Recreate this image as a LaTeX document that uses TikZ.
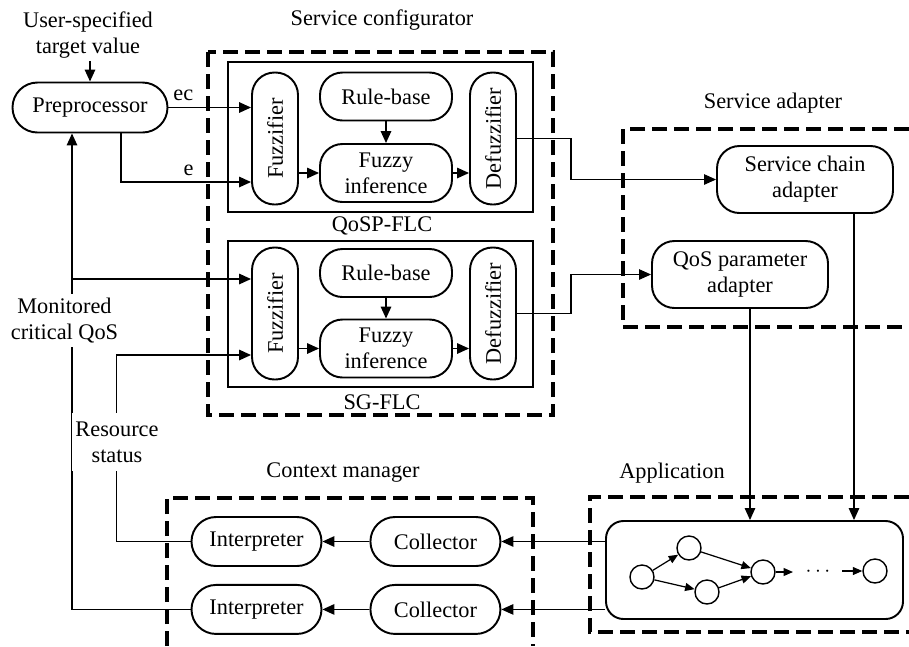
\documentclass[tikz,border=0pt]{standalone}
\usepackage{fontspec}
\setmainfont{Liberation Serif}
\usepackage{graphicx}
\usetikzlibrary{arrows.meta}
\usetikzlibrary{positioning}

\begin{document}
\begin{tikzpicture}[
        font={\fontsize{12.7pt}{14.8pt}\selectfont},
        line width=0.9pt,
        >={Triangle[length=2.4mm,width=2.1mm]},
        block_style/.style={draw, rectangle, rounded corners=0.45cm, line width=1.1pt,
          align=center, inner sep=0pt},
        fuzz_style/.style={block_style, minimum width=0.92cm, minimum height=2.64cm},
        rule_style/.style={block_style, minimum width=2.64cm, minimum height=0.96cm},
        infer_style/.style={block_style, minimum width=2.64cm, minimum height=1.16cm},
        adapt_style/.style={block_style, minimum width=3.52cm, minimum height=1.34cm},
        pill_style/.style={block_style, minimum width=2.6cm, minimum height=0.98cm, rounded corners=0.49cm},
        group_style/.style={line width=1.8pt, dash pattern=on 0.3cm off 0.14cm},
        flc_style/.style={draw, line width=1.1pt},
        dot_style/.style={draw, circle, minimum size=0.48cm, inner sep=0pt, line width=0.8pt},
        thin_line/.style={line width=0.7pt},
        small_arrow/.style={->, >={Triangle[length=1.9mm,width=1.6mm]}, line width=0.7pt},
      node distance=0.94cm]

      \useasboundingbox (0,0) rectangle (18.18,-12.92);

      % dashed groups
      \draw[group_style] (4.16,-1.04) rectangle (11.06,-8.3);
      \draw[group_style] (18.18,-2.58) -- (12.46,-2.58) -- (12.46,-6.54) -- (18.18,-6.54);
      \draw[group_style] (18.18,-9.94) -- (11.8,-9.94) -- (11.8,-12.64) -- (18.18,-12.64);
      \draw[group_style] (3.34,-12.92) -- (3.34,-9.96) -- (10.66,-9.96) -- (10.66,-12.92);

      \node (conf_label) at (7.64,-0.4) {Service configurator};
      \node (adapt_label) at (15.46,-2.06) {Service adapter};
      \node (app_label) at (13.44,-9.46) {Application};
      \node (ctx_label) at (6.86,-9.46) {Context manager};

      % preprocessor
      \node[align=center, inner sep=1pt] (target_val) at (1.76,-0.7) {User-specified\\target value};
      \node[block_style, minimum width=3.1cm, minimum height=1cm, rounded corners=0.5cm] (pre_proc) at (1.8,-2.15) {Preprocessor};
      \draw[->] (target_val.south -| pre_proc.north) -- (pre_proc.north);

      % QoSP-FLC
      \draw[flc_style] (4.56,-1.24) rectangle (10.66,-4.24);
      \node (qosp_label) at (7.64,-4.52) {QoSP-FLC};
      \node[fuzz_style] (fuzz_1) at (5.5,-2.77) {\rotatebox{90}{Fuzzifier}};
      \node[rule_style] (rule_1) at (7.72,-1.93) {Rule-base};
      \node[infer_style] (infer_1) at (7.72,-3.46) {Fuzzy\\inference};
      \node[fuzz_style] (defuzz_1) at (9.86,-2.77) {\rotatebox{90}{Defuzzifier}};
      \draw[->] (rule_1) -- (infer_1);
      \draw[->] (fuzz_1.east |- infer_1) -- (infer_1);
      \draw[->] (infer_1) -- (defuzz_1.west |- infer_1);

      % SG-FLC
      \draw[flc_style] (4.56,-4.82) rectangle (10.66,-7.74);
      \node (sg_label) at (7.64,-8.04) {SG-FLC};
      \node[fuzz_style] (fuzz_2) at (5.5,-6.27) {\rotatebox{90}{Fuzzifier}};
      \node[rule_style] (rule_2) at (7.72,-5.46) {Rule-base};
      \node[infer_style] (infer_2) at (7.72,-6.97) {Fuzzy\\inference};
      \node[fuzz_style] (defuzz_2) at (9.86,-6.27) {\rotatebox{90}{Defuzzifier}};
      \draw[->] (rule_2) -- (infer_2);
      \draw[->] (fuzz_2.east |- infer_2) -- (infer_2);
      \draw[->] (infer_2) -- (defuzz_2.west |- infer_2);

      % inputs of the QoSP-FLC
      \draw[->] (pre_proc.east) -- (pre_proc.east -| fuzz_1.west) node[pos=0.18, above] (ec_label) {ec};
      \coordinate (e_in) at ([yshift=-0.87cm]fuzz_1.west);
      \draw[->] ([xshift=0.62cm]pre_proc.south) |- (e_in) node[pos=0.76, above] (e_label) {e};

      % adapters
      \node[adapt_style] (chain_adapt) at (16.1,-3.59) {Service chain\\adapter};
      \node[adapt_style] (param_adapt) at (14.8,-5.49) {QoS parameter\\adapter};
      \draw[thin_line, ->] (defuzz_1.east) -- ++(1.08,0) |- (chain_adapt.west);
      \draw[thin_line, ->] (defuzz_2.east) -- ++(1.08,0) |- (param_adapt.west);

      % application
      \node[draw, rounded corners=0.35cm, line width=1.1pt, minimum width=5.94cm, minimum height=1.96cm] (app_box) at (15.09,-11.4) {};
      \node[dot_style] (svc_a) at (12.84,-11.54) {};
      \node[dot_style] (svc_b) at (13.78,-10.96) {};
      \node[dot_style] (svc_c) at (14.14,-11.84) {};
      \node[dot_style] (svc_d) at (15.26,-11.44) {};
      \node[dot_style] (svc_e) at (17.5,-11.42) {};
      \node (svc_dots) at (16.36,-11.44) {$\cdots$};
      \coordinate (chain_end) at (15.86,-11.44);
      \coordinate (chain_more) at (16.84,-11.42);
      \draw[small_arrow] (svc_a) -- (svc_b);
      \draw[small_arrow] (svc_a) -- (svc_c);
      \draw[small_arrow] (svc_b) -- (svc_d);
      \draw[small_arrow] (svc_c) -- (svc_d);
      \draw[small_arrow] (svc_d) -- (chain_end);
      \draw[small_arrow] (chain_more) -- (svc_e);

      \coordinate (param_out) at ([xshift=0.2cm]param_adapt.south);
      \coordinate (chain_out) at ([xshift=0.98cm]chain_adapt.south);
      \draw[thin_line, ->] (param_out) -- (param_out |- app_box.north);
      \draw[thin_line, ->] (chain_out) -- (chain_out |- app_box.north);

      % context manager
      \node[pill_style] (interp_1) at (5.13,-10.83) {Interpreter};
      \node[pill_style, right=of interp_1] (coll_1) {Collector};
      \node[pill_style, below=0.34cm of interp_1] (interp_2) {Interpreter};
      \node[pill_style, below=0.34cm of coll_1] (coll_2) {Collector};
      \draw[thin_line, ->] (app_box.west |- coll_1) -- (coll_1);
      \draw[thin_line, ->] (app_box.west |- coll_2) -- (coll_2);
      \draw[->] (coll_1) -- (interp_1);
      \draw[->] (coll_2) -- (interp_2);

      % feedback to the preprocessor and the SG-FLC
      \coordinate (mon_in) at ([xshift=-0.36cm]pre_proc.south);
      \coordinate (mon_tap) at ([yshift=0.69cm]fuzz_2.west);
      \coordinate (res_tap) at ([yshift=-0.83cm]fuzz_2.west);
      \draw[->] (interp_2.west) -| (mon_in);
      \draw[->] (mon_in |- mon_tap) -- (mon_tap);
      \draw[->] (interp_1.west) -- ++(-1.48,0) |- (res_tap);
      \node[fill=white, align=center, inner sep=2pt] (mon_label) at (1.29,-6.41) {Monitored\\critical QoS};
      \node[fill=white, align=center, inner xsep=2pt, inner ysep=5pt] (res_label) at (2.34,-8.84) {Resource\\status};
    \end{tikzpicture}
\end{document}
